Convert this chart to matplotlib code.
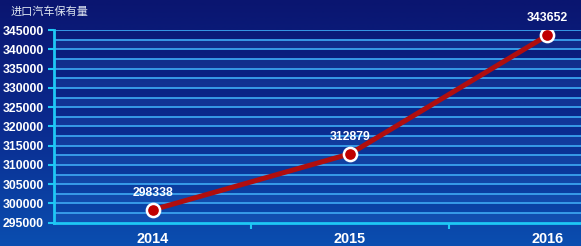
import numpy as np
import matplotlib
matplotlib.use('Agg')
import matplotlib.pyplot as plt
from matplotlib.colors import LinearSegmentedColormap

plt.rcParams['font.family'] = ['Noto Sans CJK SC', 'DejaVu Sans']

# dados
anos = ['2014', '2015', '2016']
valores = [298338, 312879, 343652]
titulo = '进口汽车保有量'
y_ticks = list(range(295000, 345001, 5000))

fig = plt.figure(figsize=(5.81, 2.46), dpi=100)

# fundo em degradê (azul escuro em cima, azul mais claro embaixo)
bg = fig.add_axes([0, 0, 1, 1], zorder=0)
cmap = LinearSegmentedColormap.from_list('fundo', ['#0a1570', '#0a2a8e', '#0b4eb0'])
grad = np.linspace(0, 1, 256).reshape(-1, 1)
bg.imshow(grad, aspect='auto', cmap=cmap, extent=[0, 1, 0, 1], origin='upper')
bg.set_axis_off()

ax = fig.add_axes([0.0929, 0.0947, 0.9071, 0.783], zorder=1)
ax.patch.set_alpha(0)

# faixas alternadas
for i, y0 in enumerate(range(295000, 345000, 2500)):
    if i % 2 == 0:
        ax.axhspan(y0, y0 + 2500, color='#3a86e0', alpha=0.15, lw=0, zorder=0)

# linhas de grade a cada 2500
for y in range(297500, 345001, 2500):
    ax.axhline(y, color='#3aa2ee', lw=1.3, zorder=1)

x = np.arange(len(anos))
ax.plot(x, valores, color='#b00e0e', lw=3.6, zorder=3, solid_capstyle='round')
ax.plot(x, valores, 'o', ms=9.5, mfc='#c00000', mec='white', mew=1.8, zorder=4)

for xi, v in zip(x, valores):
    ax.annotate(str(v), (xi, v), xytext=(0, 8), textcoords='offset points',
                ha='center', va='bottom', color='white', fontsize=8.8,
                fontweight='bold', family='Liberation Sans', zorder=5)

ax.set_xlim(-0.5, 2.17)
ax.set_ylim(295000, 345000)

ax.set_yticks(y_ticks)
ax.set_yticklabels([str(t) for t in y_ticks], family='Liberation Sans',
                   fontweight='bold', fontsize=8.8, color='white')
ax.tick_params(axis='y', direction='out', length=4.5, width=1.5,
               color='#1ec8f5', pad=3)

ax.set_xticks(x)
ax.set_xticklabels(anos, family='Liberation Sans', fontweight='bold',
                   fontsize=10.4, color='white')
ax.tick_params(axis='x', which='major', length=0, pad=7)
ax.set_xticks([0.5, 1.5], minor=True)
ax.tick_params(axis='x', which='minor', direction='out', length=4,
               width=1.5, color='#1ec8f5')

for s in ['top', 'right']:
    ax.spines[s].set_visible(False)
for s in ['left', 'bottom']:
    ax.spines[s].set_color('#1ec8f5')
    ax.spines[s].set_linewidth(2)

fig.text(11 / 581, 1 - 12 / 246, titulo, color='#dde4f0', fontsize=8,
         ha='left', va='center')

fig.savefig('out.png', dpi=100)
